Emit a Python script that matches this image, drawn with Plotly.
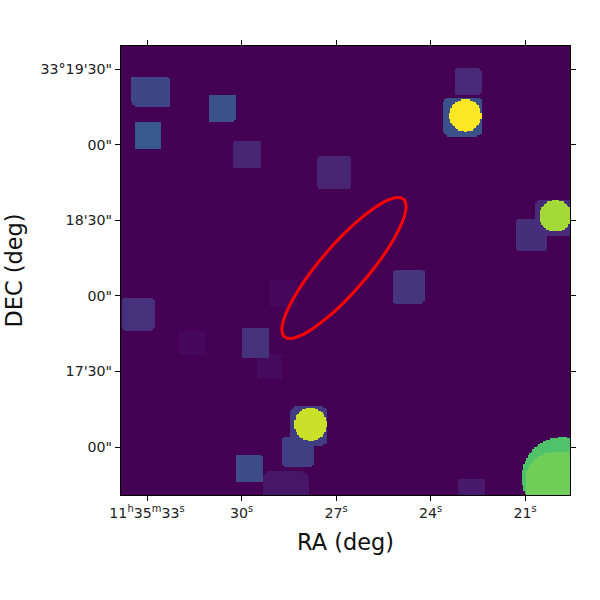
import numpy as np
import plotly.graph_objects as go

# World-coordinate scale of the image frame (450 x 450 frame units)
RA_REF_COL, RA_REF_SEC, SEC_PER_COL = 27.0, 33.0, 1 / 31.5
DEC_REF_ROW, ARCSEC_PER_ROW = 48.0, 1 / 2.52
GRID_N = 300

# Boxy sources: frame edges, corner rounding, level
box_left   = [150, 59, 136, 11, 11, 16, 88, 15, 113, 197, 416, 396, 334, 323, 2, 121, 170, 162, 142, 115, 273, 337]
box_right  = [177, 85, 162, 50, 45, 50, 115, 41, 141, 231, 455, 428, 361, 362, 34, 149, 207, 193, 189, 142, 304, 365]
box_bottom = [187, 139, 116, 389, 394, 389, 374, 346, 327, 306, 260, 245, 400, 359, 164, 137, 50, 28, -10, 13, 191, -5]
box_top    = [214, 164, 141, 419, 419, 414, 401, 374, 354, 339, 296, 276, 427, 398, 197, 166, 88, 59, 24, 40, 225, 17]
box_round  = [1, 1, 1, 5, 1, 1, 2, 2, 2, 4, 5, 3, 3, 6, 4, 2, 6, 4, 9, 1, 3, 1]
box_level  = [0.02, 0.02, 0.025, 0.21, 0.21, 0.21, 0.25, 0.28, 0.10, 0.10, 0.12, 0.13, 0.11, 0.25, 0.14, 0.14, 0.18, 0.19, 0.06, 0.23, 0.15, 0.07]

# Compact bright sources: frame centre, radius, level
disc_col    = [345.0, 435.7, 190.3, 442.0]
disc_row    = [379.7, 279.3, 70.7, 18.0]
disc_radius = [16.0, 16.0, 16.3, 40.0]
disc_level  = [1.0, 0.86, 0.92, 0.72]

# Brighter core inside the corner source
core_left, core_right, core_bottom, core_top, core_round, core_level = 406, 520, -70, 43, 28, 0.78

# Region outline
region_ra = [24.857, 24.775, 24.829, 25.013, 25.314, 25.714, 26.184, 26.692, 27.203, 27.686, 28.098, 28.425,
             28.635, 28.717, 28.663, 28.479, 28.175, 27.778, 27.308, 26.8, 26.289, 25.806, 25.394, 25.067, 24.857]
region_dec = [98.33, 95.83, 91.63, 86.03, 79.40, 72.22, 64.96, 58.10, 52.10, 47.46, 44.37, 43.06,
              43.73, 46.23, 50.40, 56.03, 62.66, 69.84, 77.10, 83.97, 89.96, 94.60, 97.74, 99.01, 98.33]

x_ticks = [33, 30, 27, 24, 21]
x_labels = ["11<sup>h</sup>35<sup>m</sup>33<sup>s</sup>", "30<sup>s</sup>", "27<sup>s</sup>", "24<sup>s</sup>", "21<sup>s</sup>"]
y_ticks = [150, 120, 90, 60, 30, 0]
y_labels = ["33°19'30\"", "00\"", "18'30\"", "00\"", "17'30\"", "00\""]

step = 450 / GRID_N
cols = (np.arange(GRID_N) + 0.5) * step
rows = (np.arange(GRID_N) + 0.5) * step
cc, rr = np.meshgrid(cols, rows)
z = np.zeros((GRID_N, GRID_N))


def box_mask(l, r_, b, t, rad):
    cx, cy = (l + r_) / 2, (b + t) / 2
    hw, hh = (r_ - l) / 2, (t - b) / 2
    dx = np.maximum(np.abs(cc - cx) - (hw - rad), 0)
    dy = np.maximum(np.abs(rr - cy) - (hh - rad), 0)
    return dx**2 + dy**2 <= rad**2


for l, r_, b, t, rad, lev in zip(box_left, box_right, box_bottom, box_top, box_round, box_level):
    z[box_mask(l, r_, b, t, rad)] = lev

for c, r_, rad, lev in zip(disc_col, disc_row, disc_radius, disc_level):
    z[(cc - c) ** 2 + (rr - r_) ** 2 <= rad**2] = lev

corner_disc = (cc - disc_col[3]) ** 2 + (rr - disc_row[3]) ** 2 <= disc_radius[3] ** 2
z[box_mask(core_left, core_right, core_bottom, core_top, core_round) & corner_disc] = core_level

ra = RA_REF_SEC - (cols - RA_REF_COL) * SEC_PER_COL
dec = (rows - DEC_REF_ROW) * ARCSEC_PER_ROW

fig = go.Figure()
fig.add_trace(go.Heatmap(x=ra, y=dec, z=np.round(z, 3), colorscale="Viridis", zmin=0, zmax=1,
                         showscale=False, hoverinfo="skip"))
fig.add_trace(go.Scatter(x=region_ra, y=region_dec, mode="lines",
                         line=dict(color="#ff0000", width=3, shape="spline", smoothing=1),
                         hoverinfo="skip", showlegend=False))

axis_common = dict(showgrid=False, zeroline=False, showline=True, linecolor="black", linewidth=1,
                   mirror="allticks", ticks="outside", ticklen=5, tickwidth=1, tickcolor="black",
                   tickfont=dict(family="DejaVu Sans", size=14.2, color="#222222"), tickmode="array")
fig.update_xaxes(range=[RA_REF_SEC - (1 - RA_REF_COL) * SEC_PER_COL, RA_REF_SEC - (450 - RA_REF_COL) * SEC_PER_COL],
                 tickvals=x_ticks, ticktext=x_labels,
                 title=dict(text="RA (deg)", font=dict(family="DejaVu Sans", size=22.4, color="#111111"), standoff=14),
                 **axis_common)
fig.update_yaxes(range=[-DEC_REF_ROW * ARCSEC_PER_ROW, (449 - DEC_REF_ROW) * ARCSEC_PER_ROW],
                 tickvals=y_ticks, ticktext=y_labels,
                 title=dict(text="DEC (deg)", font=dict(family="DejaVu Sans", size=22.4, color="#111111"), standoff=11),
                 **axis_common)
fig.update_layout(width=600, height=600, margin=dict(l=121, r=30, t=46, b=105),
                  paper_bgcolor="white", plot_bgcolor="#440154", showlegend=False)
fig.write_html("out.html", post_script="document.body.style.margin='0';",
               config={"displayModeBar": False})
